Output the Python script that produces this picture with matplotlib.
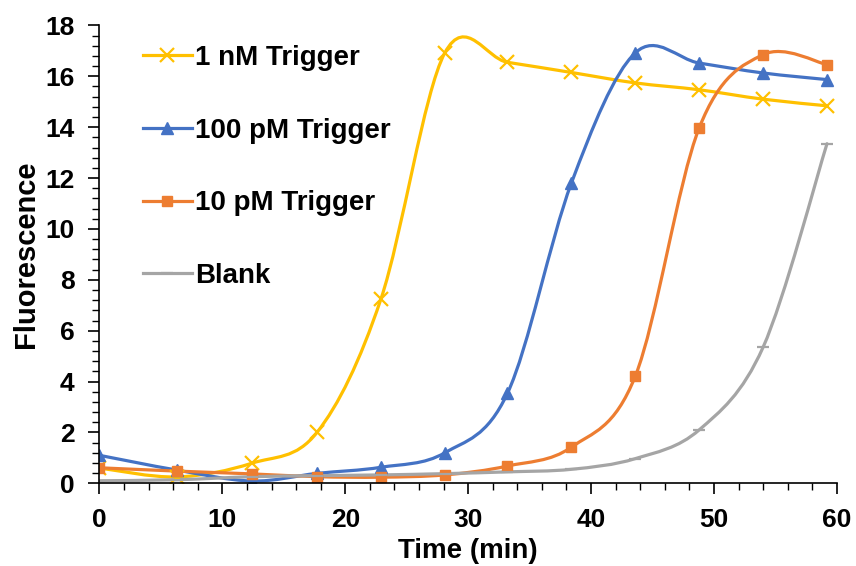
import matplotlib
matplotlib.use("Agg")
import matplotlib.pyplot as plt
import numpy as np
from matplotlib.path import Path
from matplotlib.patches import PathPatch
from matplotlib.lines import Line2D
from matplotlib.ticker import MultipleLocator

plt.rcParams['font.family'] = ['Liberation Sans', 'DejaVu Sans']

time = [0, 6.3, 12.4, 17.7, 22.9, 28.1, 33.2, 38.4, 43.6, 48.8, 54.0, 59.2]
nm1 = [0.6, 0.25, 0.79, 2.0, 7.24, 16.92, 16.55, 16.15, 15.74, 15.47, 15.1, 14.84]
pm100 = [1.1, 0.52, 0.09, 0.39, 0.63, 1.2, 3.54, 11.8, 16.92, 16.52, 16.13, 15.87]
pm10 = [0.61, 0.48, 0.37, 0.26, 0.24, 0.33, 0.68, 1.42, 4.21, 13.97, 16.85, 16.46]
blank = [0.1, 0.14, 0.26, 0.3, 0.33, 0.38, 0.45, 0.55, 0.97, 2.1, 5.35, 13.35]

labels = ['1 nM Trigger', '100 pM Trigger', '10 pM Trigger', 'Blank']
colors = ['#FFC000', '#4472C4', '#ED7D31', '#A5A5A5']
markers = ['x', '^', 's', '_']
msizes = [10, 8, 7, 9]
series = [nm1, pm100, pm10, blank]

fig = plt.figure(figsize=(8.56, 5.66), dpi=100)
ax = fig.add_axes([0.1162, 0.1461, 0.8614, 0.809])


def smooth_path(x, y):
    # Excel-style smoothed line (Catmull-Rom as cubic Bezier segments)
    p = np.column_stack([x, y]).astype(float)
    n = len(p)
    verts = [p[0]]
    codes = [Path.MOVETO]
    for i in range(n - 1):
        p0 = p[i - 1] if i > 0 else p[i]
        p1 = p[i]
        p2 = p[i + 1]
        p3 = p[i + 2] if i + 2 < n else p[i + 1]
        c1 = p1 + (p2 - p0) / 6.0
        c2 = p2 - (p3 - p1) / 6.0
        verts += [c1, c2, p2]
        codes += [Path.CURVE4] * 3
    return Path(verts, codes)


handles = []
for ys, lab, c, m, ms in zip(series, labels, colors, markers, msizes):
    patch = PathPatch(smooth_path(time, ys), facecolor='none', edgecolor=c,
                      lw=2.3, transform=ax.transData, capstyle='round',
                      joinstyle='round')
    ax.add_patch(patch)
    mew = 1.6 if m in ('x', '_') else 1.0
    ax.plot(time, ys, linestyle='none', marker=m, markersize=ms, color=c,
            markeredgewidth=mew)
    handles.append(Line2D([], [], color=c, lw=2.3, marker=m, markersize=ms,
                          markeredgewidth=mew, label=lab))

ax.set_xlim(0, 60)
ax.set_ylim(0, 18)
ax.xaxis.set_major_locator(MultipleLocator(10))
ax.xaxis.set_minor_locator(MultipleLocator(2))
ax.yaxis.set_major_locator(MultipleLocator(2))
ax.yaxis.set_minor_locator(MultipleLocator(0.4))
for s in ('top', 'right'):
    ax.spines[s].set_visible(False)
for s in ('left', 'bottom'):
    ax.spines[s].set_linewidth(1.2)
ax.tick_params(which='major', direction='out', length=8, width=1.2,
               labelsize=19)
ax.tick_params(axis='x', which='major', pad=10)
ax.tick_params(axis='y', which='major', pad=10)
ax.tick_params(which='minor', direction='out', length=5, width=1.0)
for lbl in ax.get_xticklabels() + ax.get_yticklabels():
    lbl.set_fontweight('bold')

ax.set_xlabel('Time (min)', fontsize=20, fontweight='bold', labelpad=4)
ax.set_ylabel('Fluorescence', fontsize=21, fontweight='bold', labelpad=4)

leg = ax.legend(handles=handles, loc='upper left',
                bbox_to_anchor=(143 / 856, 1 - 45 / 566),
                bbox_transform=fig.transFigure, frameon=False,
                prop={'size': 20, 'weight': 'bold'}, labelspacing=1.68,
                handlelength=1.75, handletextpad=0.12, borderpad=0,
                borderaxespad=0)

fig.savefig('out.png', dpi=100)
